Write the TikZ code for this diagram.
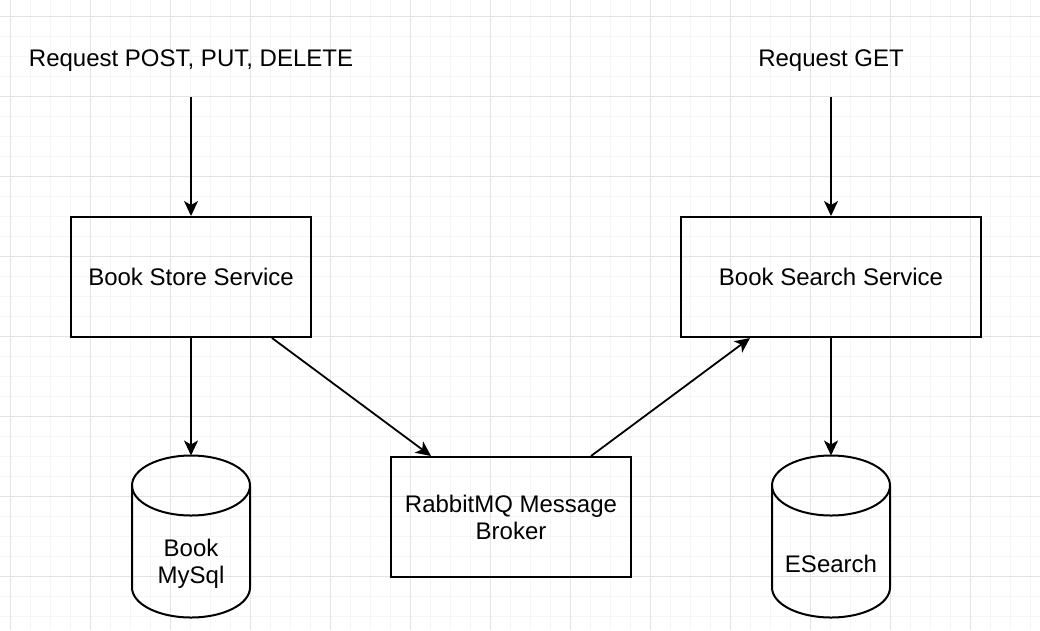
\documentclass[tikz,border=0pt]{standalone}
\usepackage{fontspec}
\setmainfont{Liberation Sans}
\usetikzlibrary{arrows.meta}
\newcommand\drum[1]{%
	\draw[line width=2pt] ([yshift=25pt]#1.north) ellipse [x radius=59pt,y radius=30pt];
	\draw[line width=2pt] ([yshift=25pt]#1.north west) -- ([yshift=30pt]#1.south west)
		arc[start angle=180,end angle=360,x radius=59pt,y radius=30pt]
		-- ([yshift=25pt]#1.north east);}

\begin{document}
\begin{tikzpicture}[x=1pt,y=-1pt,>={Stealth[length=15pt,width=14pt,inset=4pt]}]
\tikzset{
	every node/.style={font=\fontsize{24}{27}\selectfont,align=center},
	service/.style={draw,line width=2pt,minimum width=240pt,minimum height=120pt},
	store/.style={minimum width=118pt,minimum height=107pt,outer sep=0pt},
	flow/.style={->,line width=1.8pt}
}
\useasboundingbox (0,0) rectangle (1040,630);
\fill[white] (0,0) rectangle (1040,630);
\foreach \x in {10,30,...,1030} \draw[gray!8,line width=1pt] (\x,0) -- (\x,630);
\foreach \y in {16,36,...,626} \draw[gray!8,line width=1pt] (0,\y) -- (1040,\y);
\foreach \x in {10,90,...,1030} \draw[gray!22,line width=1pt] (\x,0) -- (\x,630);
\foreach \y in {16,96,...,626} \draw[gray!22,line width=1pt] (0,\y) -- (1040,\y);

\node(postreq) at (191,61) {Request POST, PUT, DELETE};
\node(getreq) at (831,61) {Request GET};
\coordinate(postin) at (191,97);
\coordinate(getin) at (831,97);
\node(bookstore)[service] at (191,277) {Book Store Service};
\node(booksearch)[service,minimum width=300pt] at (831,277) {Book Search Service};
\node(broker)[service] at (511,517) {RabbitMQ Message\\Broker};
\node(mysql)[store] at (191,564) {Book\\MySql};
\node(esearch)[store] at (831,564) {ESearch};
\drum{mysql}
\drum{esearch}
\coordinate(mysqltop) at ([yshift=55pt]mysql.north);
\coordinate(esearchtop) at ([yshift=55pt]esearch.north);

\draw[flow] (postin) -- (bookstore);
\draw[flow] (getin) -- (booksearch);
\draw[flow] (bookstore) -- (mysqltop);
\draw[flow] (booksearch) -- (esearchtop);
\draw[flow] ([xshift=-40pt]bookstore.south east) -- ([xshift=-80pt]broker.north);
\draw[flow] ([xshift=80pt]broker.north) -- ([xshift=70pt]booksearch.south west);
\end{tikzpicture}
\end{document}
